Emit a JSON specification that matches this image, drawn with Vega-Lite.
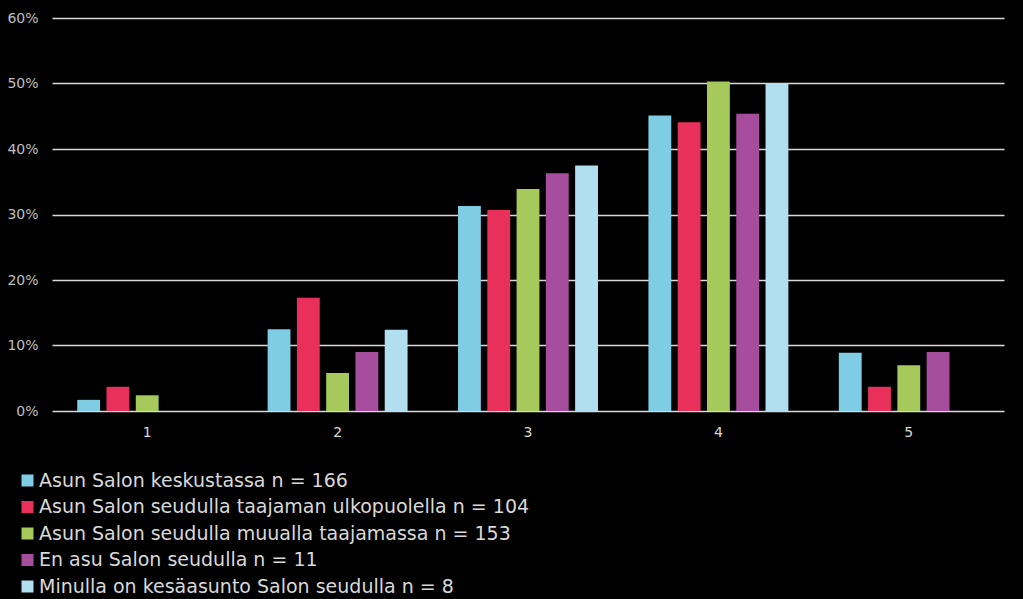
{
  "$schema": "https://vega.github.io/schema/vega-lite/v6.json",
  "autosize": "none",
  "width": 952,
  "height": 393,
  "padding": {"left": 52, "top": 18, "right": 19, "bottom": 188},
  "background": "#000000",
  "config": {
    "view": {"stroke": null},
    "font": "DejaVu Sans"
  },
  "data": {
    "values": [
      {"k": "1", "s": "Asun Salon keskustassa n = 166", "o": 1, "v": 0.017},
      {"k": "1", "s": "Asun Salon seudulla taajaman ulkopuolella n = 104", "o": 2, "v": 0.037},
      {"k": "1", "s": "Asun Salon seudulla muualla taajamassa n = 153", "o": 3, "v": 0.024},
      {"k": "1", "s": "En asu Salon seudulla n = 11", "o": 4, "v": 0},
      {"k": "1", "s": "Minulla on kesäasunto Salon seudulla n = 8", "o": 5, "v": 0},
      {"k": "2", "s": "Asun Salon keskustassa n = 166", "o": 1, "v": 0.125},
      {"k": "2", "s": "Asun Salon seudulla taajaman ulkopuolella n = 104", "o": 2, "v": 0.173},
      {"k": "2", "s": "Asun Salon seudulla muualla taajamassa n = 153", "o": 3, "v": 0.058},
      {"k": "2", "s": "En asu Salon seudulla n = 11", "o": 4, "v": 0.09},
      {"k": "2", "s": "Minulla on kesäasunto Salon seudulla n = 8", "o": 5, "v": 0.124},
      {"k": "3", "s": "Asun Salon keskustassa n = 166", "o": 1, "v": 0.313},
      {"k": "3", "s": "Asun Salon seudulla taajaman ulkopuolella n = 104", "o": 2, "v": 0.307},
      {"k": "3", "s": "Asun Salon seudulla muualla taajamassa n = 153", "o": 3, "v": 0.339},
      {"k": "3", "s": "En asu Salon seudulla n = 11", "o": 4, "v": 0.363},
      {"k": "3", "s": "Minulla on kesäasunto Salon seudulla n = 8", "o": 5, "v": 0.375},
      {"k": "4", "s": "Asun Salon keskustassa n = 166", "o": 1, "v": 0.451},
      {"k": "4", "s": "Asun Salon seudulla taajaman ulkopuolella n = 104", "o": 2, "v": 0.441},
      {"k": "4", "s": "Asun Salon seudulla muualla taajamassa n = 153", "o": 3, "v": 0.503},
      {"k": "4", "s": "En asu Salon seudulla n = 11", "o": 4, "v": 0.454},
      {"k": "4", "s": "Minulla on kesäasunto Salon seudulla n = 8", "o": 5, "v": 0.5},
      {"k": "5", "s": "Asun Salon keskustassa n = 166", "o": 1, "v": 0.089},
      {"k": "5", "s": "Asun Salon seudulla taajaman ulkopuolella n = 104", "o": 2, "v": 0.037},
      {"k": "5", "s": "Asun Salon seudulla muualla taajamassa n = 153", "o": 3, "v": 0.07},
      {"k": "5", "s": "En asu Salon seudulla n = 11", "o": 4, "v": 0.09},
      {"k": "5", "s": "Minulla on kesäasunto Salon seudulla n = 8", "o": 5, "v": 0}
    ]
  },
  "mark": {"type": "bar"},
  "encoding": {
    "x": {
      "field": "k", "type": "nominal",
      "scale": {"paddingInner": 0.265, "paddingOuter": 0.1325},
      "axis": {
        "title": null, "labelAngle": 0, "domain": false, "ticks": false,
        "labelColor": "#d9d9d9", "labelFontSize": 14, "labelPadding": 14
      }
    },
    "xOffset": {
      "field": "o", "type": "ordinal",
      "scale": {"paddingInner": 0.22, "paddingOuter": 0}
    },
    "y": {
      "field": "v", "type": "quantitative",
      "scale": {"domain": [0, 0.6], "nice": false},
      "axis": {
        "title": null, "format": ".0%", "values": [0, 0.1, 0.2, 0.3, 0.4, 0.5, 0.6],
        "labelOverlap": false,
        "domain": false, "ticks": false,
        "grid": true, "gridColor": "#d9d9d9", "gridWidth": 1.5,
        "labelColor": "#bfbfbf", "labelFontSize": 14, "labelPadding": 14
      }
    },
    "color": {
      "field": "s", "type": "nominal",
      "scale": {
        "domain": [
          "Asun Salon keskustassa n = 166",
          "Asun Salon seudulla taajaman ulkopuolella n = 104",
          "Asun Salon seudulla muualla taajamassa n = 153",
          "En asu Salon seudulla n = 11",
          "Minulla on kesäasunto Salon seudulla n = 8"
        ],
        "range": ["#7ecde5", "#e8305a", "#a5c95a", "#a64d9d", "#b2dfef"]
      },
      "legend": {
        "title": null, "orient": "none", "legendX": -34, "legendY": 453,
        "symbolType": "square", "symbolSize": 144, "symbolStrokeWidth": 0,
        "labelColor": "#d9d9d9", "labelFontSize": 19, "labelOffset": 2,
        "rowPadding": 6.5, "padding": 0, "labelLimit": 800
      }
    }
  }
}
